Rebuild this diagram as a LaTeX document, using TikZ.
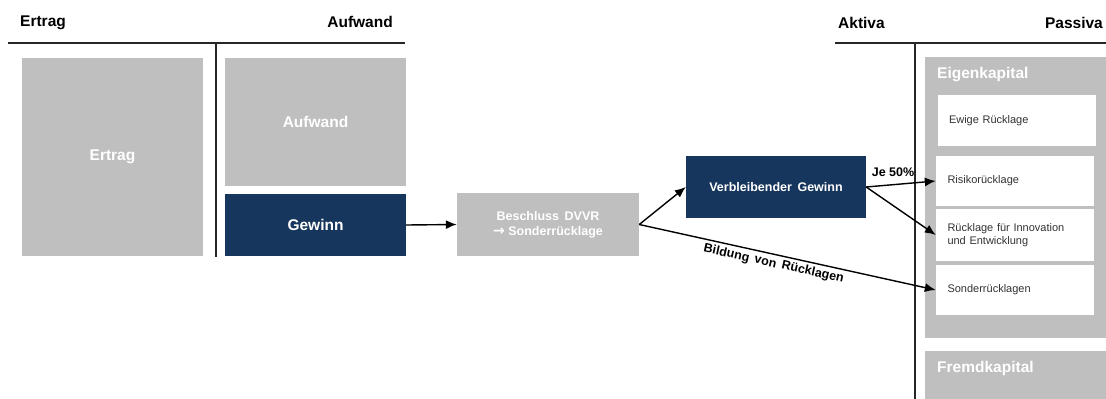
\documentclass[tikz,border=0pt]{standalone}
\usepackage{fontspec}
\setmainfont{Liberation Sans}
\newfontfamily\symfont{DejaVu Sans}
\usetikzlibrary{arrows.meta}
\definecolor{boxgray}{RGB}{191,191,191}
\definecolor{navy}{RGB}{23,54,93}
\definecolor{rulecol}{RGB}{38,38,38}
\tikzset{
  hdr/.style={font=\fontsize{15.5}{18}\selectfont\bfseries, text=black, inner sep=0pt},
  graybox/.style={fill=boxgray, draw=none, inner sep=0pt, text=white,
    font=\fontsize{15.5}{18}\selectfont\bfseries},
  navybox/.style={fill=navy, draw=none, inner sep=0pt, text=white},
  flowbox/.style={inner sep=0pt, align=center, font=\fontsize{12.5}{15}\selectfont\bfseries},
  whitebox/.style={fill=white, draw=none, inner xsep=11.5pt, inner ysep=0pt,
    minimum width=158pt, text width=135pt, align=left,
    font=\fontsize{11}{14}\selectfont, text=black!80},
  rule/.style={draw=rulecol, line width=1.4pt},
  arr/.style={draw=black, line width=1.4pt, -{Latex[length=11pt,width=9pt]}},
  lbl/.style={font=\fontsize{12.5}{15}\selectfont\bfseries, text=black, inner sep=1pt}
}
\begin{document}
\begin{tikzpicture}[x=1pt,y=-1pt]
\clip (0,0) rectangle (1106,399);
\fill[white] (0,0) rectangle (1106,399);

% --- income statement (Ertrag / Aufwand) ---
\node[hdr, anchor=base west] (hErtrag) at (20,26) {Ertrag};
\node[hdr, anchor=base east] (hAufwand) at (393,27) {Aufwand};
\coordinate (guvL) at (8,43);
\coordinate (guvR) at (405,43);
\coordinate (guvTop) at (216,43);
\coordinate (guvBot) at (216,257);
\draw[rule] (guvL) -- (guvR);
\draw[rule] (guvTop) -- (guvBot);

\node[graybox, minimum width=181pt, minimum height=198pt] (ertrag) at (112.5,157) {Ertrag};
\node[graybox, minimum width=181pt, minimum height=128pt] (aufwand) at (315.5,122) {Aufwand};
\node[navybox, minimum width=181pt, minimum height=62pt,
      font=\fontsize{15.5}{18}\selectfont\bfseries] (gewinn) at (315.5,225) {Gewinn};

% --- decision and remaining profit ---
\node[flowbox, fill=boxgray, text=white, minimum width=182pt, minimum height=63pt]
  (beschluss) at (548,224.5) {Beschluss\ \,DVVR\\{\symfont\bfseries\fontsize{14}{15}\selectfont →} Sonderrücklage};
\node[flowbox, fill=navy, text=white, minimum width=180pt, minimum height=62pt]
  (verbleib) at (776,187) {Verbleibender\ \,Gewinn};

% --- balance sheet (Aktiva / Passiva) ---
\node[hdr, anchor=base west] (hAktiva) at (838,28) {Aktiva};
\node[hdr, anchor=base east] (hPassiva) at (1103,28) {Passiva};
\coordinate (bilL) at (835,43);
\coordinate (bilR) at (1106,43);
\coordinate (bilTop) at (915,43);
\coordinate (bilBot) at (915,400);
\draw[rule] (bilL) -- (bilR);
\draw[rule] (bilTop) -- (bilBot);

\node[fill=boxgray, inner sep=0pt, minimum width=181pt, minimum height=281pt] (eigen) at (1015.5,197.5) {};
\node[graybox, anchor=base west] (eigenLbl) at (937,78) {Eigenkapital};
\node[whitebox, minimum height=51pt] (ewige) at (1016.5,120.5) {Ewige Rücklage};
\node[whitebox, minimum height=50pt] (risiko) at (1015,181) {Risikorücklage};
\node[whitebox, minimum height=52pt, font=\fontsize{11}{13.5}\selectfont] (innov) at (1015,235)
  {Rücklage für Innovation\\und Entwicklung};
\node[whitebox, minimum height=50pt] (sonder) at (1015,290) {Sonderrücklagen};

\node[fill=boxgray, inner sep=0pt, minimum width=181pt, minimum height=70pt] (fremd) at (1015.5,386) {};
\node[graybox, anchor=base west] (fremdLbl) at (937,372) {Fremdkapital};

% --- flows ---
\draw[arr] (gewinn.east) -- (beschluss.west);
\draw[arr] (beschluss.east) -- (verbleib.west);
\draw[arr] (beschluss.east) -- node[lbl, pos=0.46, sloped, below=2pt] {Bildung\ \,von\ \,Rücklagen} (sonder.west);
\draw[arr] (verbleib.east) -- (risiko.west);
\draw[arr] (verbleib.east) -- (innov.west);
\node[lbl] (je) at (893,172) {Je 50\%};
\end{tikzpicture}
\end{document}
